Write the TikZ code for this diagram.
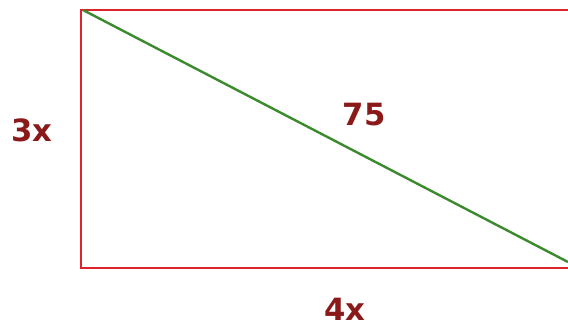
\documentclass[tikz,border=0pt]{standalone}
\usepackage{fontspec}
\newfontfamily\lblfont{DejaVu Sans}
\definecolor{rectred}{HTML}{E0232B}
\definecolor{diaggreen}{HTML}{3C8A2E}
\definecolor{lblred}{HTML}{8A1A1A}
\begin{document}
\begin{tikzpicture}[x=0.75pt,y=-0.75pt,
  lbl/.style={font=\lblfont\bfseries\fontsize{23}{26}\selectfont, text=lblred, inner sep=0pt}]
\useasboundingbox (0,0) rectangle (568,333);
\coordinate (tl) at (81,10);
\coordinate (bl) at (81,268);
\coordinate (tr) at (568,10);
\coordinate (br) at (568,268);
\coordinate (ds) at (83,10);
\coordinate (de) at (568,262);
\draw[rectred, line width=2pt] (tr) -- (tl) -- (bl) -- (br);
\draw[diaggreen, line width=1.8pt] (ds) -- (de);
\node[lbl] (h) at (32,130) {3x};
\node[lbl] (d) at (364,115) {75};
\node[lbl] (w) at (345,309) {4x};
\end{tikzpicture}
\end{document}
